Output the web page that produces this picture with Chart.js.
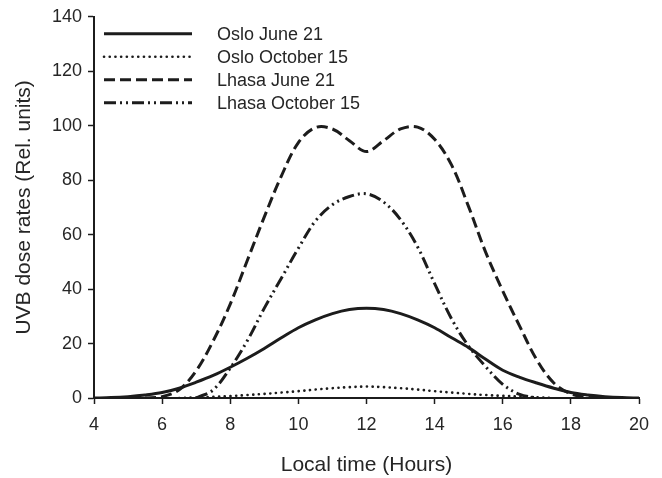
<!DOCTYPE html>
<html>
<head>
<meta charset="utf-8">
<script src="https://cdn.jsdelivr.net/npm/chart.js@4"></script>
<style>
    body{
        margin:0;
        background:#fff;
    }
</style>
</head>
<body>

<canvas id="uvbChart" width="662" height="478"></canvas>

<script>

// Local time (hours)

const hours = [
    4, 4.5, 5, 5.5, 6, 6.5, 7, 7.5, 8, 8.5,
    9, 9.5, 10, 10.5, 11, 11.5, 12, 12.5, 13, 13.5,
    14, 14.5, 15, 15.5, 16, 16.5, 17, 17.5, 18, 18.5,
    19, 19.5, 20
];

const osloJune = [
    0, 0.15, 0.5, 1.1, 2, 3.6, 5.8, 8.3, 11.3, 14.6,
    18.2, 22.1, 25.8, 28.7, 31, 32.5, 33, 32.5, 31, 28.7,
    25.8, 22.1, 18.5, 14.2, 10.2, 7.6, 5.5, 3.6, 2, 1.1,
    0.5, 0.15, 0
];

const osloOctober = [
    null, null, null, null, null, 0, 0.2, 0.4, 0.7, 1.1,
    1.5, 2, 2.5, 3.1, 3.6, 4, 4.2, 4, 3.6, 3.1,
    2.5, 2, 1.5, 1.1, 0.8, 0.5, 0.3, 0, null, null,
    null, null, null
];

const lhasaJune = [
    null, null, null, 0, 0.5, 3, 10, 21, 34.5, 50.5,
    66.5, 81.5, 93.8, 99.3, 98.8, 94.5, 90.5, 94.5, 98.8, 99.5,
    95, 85.5, 70.2, 53.5, 39.3, 26.3, 14, 5.5, 1.5, 0.2,
    0, null, null
];

const lhasaOctober = [
    null, null, null, null, null, null, 0, 3, 11, 21,
    33, 44, 55, 65, 71, 74, 75, 72, 65.5, 55.5,
    42, 29, 19, 11.5, 5, 1.3, 0, null, null, null,
    null, null, null
];

const xTicks = [4, 6, 8, 10, 12, 14, 16, 18, 20];

const yTicks = [0, 20, 40, 60, 80, 100, 120, 140];

const seriesNames = [
    "Oslo June 21",
    "Oslo October 15",
    "Lhasa June 21",
    "Lhasa October 15"
];

const ink = "#1c1c1c";

const textColor = "#262626";

const fontFamily = "'Liberation Sans', Arial, sans-serif";

function toPoints(values){

    return hours.map((h, i) => ({
        x:h,
        y:values[i]
    }));
}

// legend drawn inside the plot, top left

const insideLegend = {

    id:"insideLegend",

    afterDatasetsDraw(chart){

        const ctx = chart.ctx;

        const area = chart.chartArea;

        chart.data.datasets.forEach((ds, i) => {

            const y = area.top + 17 + i * 23;

            ctx.save();

            ctx.strokeStyle = ds.borderColor;
            ctx.lineWidth = ds.borderWidth;
            ctx.lineCap = ds.borderCapStyle || "butt";
            ctx.setLineDash(ds.borderDash || []);

            ctx.beginPath();
            ctx.moveTo(area.left + 10, y);
            ctx.lineTo(area.left + 98, y);
            ctx.stroke();

            ctx.setLineDash([]);
            ctx.fillStyle = textColor;
            ctx.font = "18px " + fontFamily;
            ctx.textBaseline = "middle";
            ctx.fillText(ds.label, area.left + 123, y + 1);

            ctx.restore();
        });
    }
};

new Chart(

    document.getElementById(
        "uvbChart"
    ),

    {

        type:"line",

        data:{

            datasets:[

                {
                    label:seriesNames[0],
                    data:toPoints(osloJune),
                    borderColor:ink,
                    borderWidth:3,
                    borderDash:[]
                },

                {
                    label:seriesNames[1],
                    data:toPoints(osloOctober),
                    borderColor:ink,
                    borderWidth:2.6,
                    borderCapStyle:"round",
                    borderDash:[0.1, 5.6]
                },

                {
                    label:seriesNames[2],
                    data:toPoints(lhasaJune),
                    borderColor:ink,
                    borderWidth:3,
                    borderDash:[11, 5]
                },

                {
                    label:seriesNames[3],
                    data:toPoints(lhasaOctober),
                    borderColor:ink,
                    borderWidth:3,
                    borderDash:[12, 4, 2, 4, 2, 4]
                }
            ]
        },

        options:{

            responsive:false,

            animation:false,

            spanGaps:false,

            layout:{
                padding:{
                    top:16,
                    right:23,
                    left:0,
                    bottom:0
                }
            },

            elements:{
                point:{
                    radius:0
                },
                line:{
                    tension:0.35,
                    fill:false
                }
            },

            plugins:{
                legend:{
                    display:false
                },
                tooltip:{
                    enabled:false
                }
            },

            scales:{

                x:{
                    type:"linear",
                    min:xTicks[0],
                    max:xTicks[xTicks.length - 1],
                    afterBuildTicks(scale){
                        scale.ticks = xTicks.map(v => ({ value:v }));
                    },
                    afterFit(scale){
                        scale.height = 80;
                    },
                    ticks:{
                        color:textColor,
                        padding:10,
                        maxRotation:0,
                        font:{
                            family:fontFamily,
                            size:18
                        }
                    },
                    grid:{
                        drawOnChartArea:false,
                        drawTicks:true,
                        tickLength:6,
                        tickColor:ink,
                        tickWidth:1.5
                    },
                    border:{
                        display:true,
                        color:ink,
                        width:2
                    },
                    title:{
                        display:true,
                        text:"Local time (Hours)",
                        color:textColor,
                        padding:{
                            top:0,
                            bottom:0
                        },
                        font:{
                            family:fontFamily,
                            size:21
                        }
                    }
                },

                y:{
                    min:yTicks[0],
                    max:yTicks[yTicks.length - 1],
                    afterBuildTicks(scale){
                        scale.ticks = yTicks.map(v => ({ value:v }));
                    },
                    afterFit(scale){
                        scale.width = 94;
                    },
                    ticks:{
                        color:textColor,
                        padding:6,
                        font:{
                            family:fontFamily,
                            size:18
                        }
                    },
                    grid:{
                        drawOnChartArea:false,
                        drawTicks:true,
                        tickLength:6,
                        tickColor:ink,
                        tickWidth:1.5
                    },
                    border:{
                        display:true,
                        color:ink,
                        width:2
                    },
                    title:{
                        display:true,
                        text:"UVB dose rates (Rel. units)",
                        color:textColor,
                        padding:{
                            top:12,
                            bottom:0
                        },
                        font:{
                            family:fontFamily,
                            size:21
                        }
                    }
                }
            }
        },

        plugins:[insideLegend]
    }
);

</script>
</body>
</html>
